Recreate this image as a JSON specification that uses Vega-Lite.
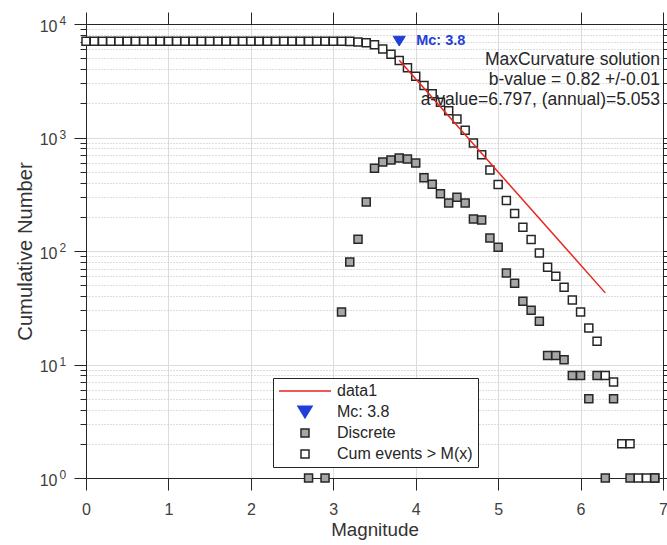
{
  "$schema": "https://vega.github.io/schema/vega-lite/v6.json",
  "width": 577,
  "height": 454,
  "autosize": "none",
  "padding": {"left": 86, "top": 24, "right": 4, "bottom": 67},
  "background": "white",
  "config": {
    "font": "Liberation Sans",
    "view": {"stroke": "#262626", "strokeWidth": 1},
    "axis": {
      "labelFont": "Liberation Sans",
      "titleFont": "Liberation Sans",
      "labelColor": "#404040",
      "titleColor": "#333333",
      "tickColor": "#262626",
      "domainColor": "#262626",
      "titleFontWeight": "normal",
      "titleFontSize": 18.8,
      "labelFontSize": 16,
      "labelFlush": false,
      "labelOverlap": false,
      "gridColor": "#dcdcdc"
    },
    "legend": {
      "orient": "none",
      "legendX": 187,
      "legendY": 354,
      "symbolSize": 2704,
      "clipHeight": 16,
      "rowPadding": 5,
      "labelOffset": 5,
      "padding": 5,
      "strokeColor": "#262626",
      "fillColor": "white",
      "labelFont": "Liberation Sans",
      "labelFontSize": 16,
      "labelColor": "#262626",
      "symbolStrokeWidth": 1.5,
      "labelLimit": 300
    }
  },
  "datasets": {
    "cum": [
      {"M": 0.0, "N": 7060, "series": "Cum events > M(x)"},
      {"M": 0.1, "N": 7060, "series": "Cum events > M(x)"},
      {"M": 0.2, "N": 7060, "series": "Cum events > M(x)"},
      {"M": 0.3, "N": 7060, "series": "Cum events > M(x)"},
      {"M": 0.4, "N": 7060, "series": "Cum events > M(x)"},
      {"M": 0.5, "N": 7060, "series": "Cum events > M(x)"},
      {"M": 0.6, "N": 7060, "series": "Cum events > M(x)"},
      {"M": 0.7, "N": 7060, "series": "Cum events > M(x)"},
      {"M": 0.8, "N": 7060, "series": "Cum events > M(x)"},
      {"M": 0.9, "N": 7060, "series": "Cum events > M(x)"},
      {"M": 1.0, "N": 7060, "series": "Cum events > M(x)"},
      {"M": 1.1, "N": 7060, "series": "Cum events > M(x)"},
      {"M": 1.2, "N": 7060, "series": "Cum events > M(x)"},
      {"M": 1.3, "N": 7060, "series": "Cum events > M(x)"},
      {"M": 1.4, "N": 7060, "series": "Cum events > M(x)"},
      {"M": 1.5, "N": 7060, "series": "Cum events > M(x)"},
      {"M": 1.6, "N": 7060, "series": "Cum events > M(x)"},
      {"M": 1.7, "N": 7060, "series": "Cum events > M(x)"},
      {"M": 1.8, "N": 7060, "series": "Cum events > M(x)"},
      {"M": 1.9, "N": 7060, "series": "Cum events > M(x)"},
      {"M": 2.0, "N": 7060, "series": "Cum events > M(x)"},
      {"M": 2.1, "N": 7060, "series": "Cum events > M(x)"},
      {"M": 2.2, "N": 7060, "series": "Cum events > M(x)"},
      {"M": 2.3, "N": 7060, "series": "Cum events > M(x)"},
      {"M": 2.4, "N": 7060, "series": "Cum events > M(x)"},
      {"M": 2.5, "N": 7060, "series": "Cum events > M(x)"},
      {"M": 2.6, "N": 7060, "series": "Cum events > M(x)"},
      {"M": 2.7, "N": 7060, "series": "Cum events > M(x)"},
      {"M": 2.8, "N": 7059, "series": "Cum events > M(x)"},
      {"M": 2.9, "N": 7059, "series": "Cum events > M(x)"},
      {"M": 3.0, "N": 7058, "series": "Cum events > M(x)"},
      {"M": 3.1, "N": 7058, "series": "Cum events > M(x)"},
      {"M": 3.2, "N": 7029, "series": "Cum events > M(x)"},
      {"M": 3.3, "N": 6949, "series": "Cum events > M(x)"},
      {"M": 3.4, "N": 6822, "series": "Cum events > M(x)"},
      {"M": 3.5, "N": 6552, "series": "Cum events > M(x)"},
      {"M": 3.6, "N": 6017, "series": "Cum events > M(x)"},
      {"M": 3.7, "N": 5409, "series": "Cum events > M(x)"},
      {"M": 3.8, "N": 4775, "series": "Cum events > M(x)"},
      {"M": 3.9, "N": 4115, "series": "Cum events > M(x)"},
      {"M": 4.0, "N": 3468, "series": "Cum events > M(x)"},
      {"M": 4.1, "N": 2872, "series": "Cum events > M(x)"},
      {"M": 4.2, "N": 2429, "series": "Cum events > M(x)"},
      {"M": 4.3, "N": 2042, "series": "Cum events > M(x)"},
      {"M": 4.4, "N": 1722, "series": "Cum events > M(x)"},
      {"M": 4.5, "N": 1457, "series": "Cum events > M(x)"},
      {"M": 4.6, "N": 1160, "series": "Cum events > M(x)"},
      {"M": 4.7, "N": 895, "series": "Cum events > M(x)"},
      {"M": 4.8, "N": 704, "series": "Cum events > M(x)"},
      {"M": 4.9, "N": 516, "series": "Cum events > M(x)"},
      {"M": 5.0, "N": 386, "series": "Cum events > M(x)"},
      {"M": 5.1, "N": 278, "series": "Cum events > M(x)"},
      {"M": 5.2, "N": 214, "series": "Cum events > M(x)"},
      {"M": 5.3, "N": 162, "series": "Cum events > M(x)"},
      {"M": 5.4, "N": 126, "series": "Cum events > M(x)"},
      {"M": 5.5, "N": 96, "series": "Cum events > M(x)"},
      {"M": 5.6, "N": 72, "series": "Cum events > M(x)"},
      {"M": 5.7, "N": 60, "series": "Cum events > M(x)"},
      {"M": 5.8, "N": 48, "series": "Cum events > M(x)"},
      {"M": 5.9, "N": 37, "series": "Cum events > M(x)"},
      {"M": 6.0, "N": 29, "series": "Cum events > M(x)"},
      {"M": 6.1, "N": 21, "series": "Cum events > M(x)"},
      {"M": 6.2, "N": 16, "series": "Cum events > M(x)"},
      {"M": 6.3, "N": 8, "series": "Cum events > M(x)"},
      {"M": 6.4, "N": 7, "series": "Cum events > M(x)"},
      {"M": 6.5, "N": 2, "series": "Cum events > M(x)"},
      {"M": 6.6, "N": 2, "series": "Cum events > M(x)"},
      {"M": 6.7, "N": 1, "series": "Cum events > M(x)"},
      {"M": 6.8, "N": 1, "series": "Cum events > M(x)"},
      {"M": 6.9, "N": 1, "series": "Cum events > M(x)"}
    ],
    "disc": [
      {"M": 2.7, "N": 1, "series": "Discrete"},
      {"M": 2.9, "N": 1, "series": "Discrete"},
      {"M": 3.1, "N": 29, "series": "Discrete"},
      {"M": 3.2, "N": 80, "series": "Discrete"},
      {"M": 3.3, "N": 127, "series": "Discrete"},
      {"M": 3.4, "N": 270, "series": "Discrete"},
      {"M": 3.5, "N": 535, "series": "Discrete"},
      {"M": 3.6, "N": 608, "series": "Discrete"},
      {"M": 3.7, "N": 634, "series": "Discrete"},
      {"M": 3.8, "N": 660, "series": "Discrete"},
      {"M": 3.9, "N": 647, "series": "Discrete"},
      {"M": 4.0, "N": 596, "series": "Discrete"},
      {"M": 4.1, "N": 443, "series": "Discrete"},
      {"M": 4.2, "N": 387, "series": "Discrete"},
      {"M": 4.3, "N": 320, "series": "Discrete"},
      {"M": 4.4, "N": 265, "series": "Discrete"},
      {"M": 4.5, "N": 297, "series": "Discrete"},
      {"M": 4.6, "N": 265, "series": "Discrete"},
      {"M": 4.7, "N": 191, "series": "Discrete"},
      {"M": 4.8, "N": 188, "series": "Discrete"},
      {"M": 4.9, "N": 130, "series": "Discrete"},
      {"M": 5.0, "N": 108, "series": "Discrete"},
      {"M": 5.1, "N": 64, "series": "Discrete"},
      {"M": 5.2, "N": 52, "series": "Discrete"},
      {"M": 5.3, "N": 36, "series": "Discrete"},
      {"M": 5.4, "N": 30, "series": "Discrete"},
      {"M": 5.5, "N": 24, "series": "Discrete"},
      {"M": 5.6, "N": 12, "series": "Discrete"},
      {"M": 5.7, "N": 12, "series": "Discrete"},
      {"M": 5.8, "N": 11, "series": "Discrete"},
      {"M": 5.9, "N": 8, "series": "Discrete"},
      {"M": 6.0, "N": 8, "series": "Discrete"},
      {"M": 6.1, "N": 5, "series": "Discrete"},
      {"M": 6.2, "N": 8, "series": "Discrete"},
      {"M": 6.3, "N": 1, "series": "Discrete"},
      {"M": 6.4, "N": 5, "series": "Discrete"},
      {"M": 6.6, "N": 1, "series": "Discrete"},
      {"M": 6.9, "N": 1, "series": "Discrete"}
    ],
    "fit": [
      {"M": 3.8, "N": 4797.5, "series": "data1"},
      {"M": 6.3, "N": 42.76, "series": "data1"}
    ],
    "mc": [
      {"M": 3.8, "N": 7060, "series": "Mc: 3.8", "label": "Mc: 3.8"}
    ],
    "notes": [
      {"M": 7, "N": 4351, "label": "MaxCurvature solution"},
      {"M": 7, "N": 2901, "label": "b-value = 0.82 +/-0.01"},
      {"M": 7, "N": 1933, "label": "a-value=6.797, (annual)=5.053"}
    ]
  },
  "resolve": {"axis": {"x": "independent", "y": "independent"}},
  "layer": [
    {
      "data": {"name": "cum"},
      "mark": {"type": "point", "size": 2704, "strokeWidth": 1.5, "opacity": 1, "fillOpacity": 1},
      "encoding": {
        "x": {"field": "M", "type": "quantitative",
          "scale": {"domain": [0, 7], "nice": false, "zero": false},
          "axis": {"orient": "bottom", "values": [0, 1, 2, 3, 4, 5, 6, 7], "tickSize": 12, "labelPadding": 19, "labelBaseline": "middle", "grid": true, "title": "Magnitude", "titleX": 288.5, "titleY": 57, "titleAlign": "center", "titleBaseline": "alphabetic"}},
        "y": {"field": "N", "type": "quantitative",
          "scale": {"type": "log", "domain": [1, 10000], "nice": false},
          "axis": {"orient": "left", "values": [1, 10, 100, 1000, 10000], "tickSize": 12, "labelExpr": "'10'", "labelAlign": "right", "labelBaseline": "middle", "labelPadding": 17, "labelOffset": 2, "grid": true, "title": "Cumulative Number", "titleFontSize": 20.2, "titleX": -54.5, "titleY": 227, "titleAngle": 270, "titleAlign": "center", "titleBaseline": "alphabetic"}},
        "fill": {"field": "series", "type": "nominal", "legend": {"title": null},
          "scale": {"domain": ["data1", "Mc: 3.8", "Discrete", "Cum events > M(x)"], "range": ["rgba(0,0,0,0)", "#1f3fd8", "#a6a6a6", "#ffffff"]}},
        "stroke": {"field": "series", "type": "nominal", "legend": {"title": null},
          "scale": {"domain": ["data1", "Mc: 3.8", "Discrete", "Cum events > M(x)"], "range": ["#e8251f", "#1f3fd8", "#262626", "#262626"]}},
        "shape": {"field": "series", "type": "nominal", "legend": {"title": null},
          "scale": {"domain": ["data1", "Mc: 3.8", "Discrete", "Cum events > M(x)"], "range": ["M-1,0H1", "M-0.27,-0.22L0.27,-0.22L0,0.22Z", "M-0.154,-0.154H0.154V0.154H-0.154Z", "M-0.154,-0.154H0.154V0.154H-0.154Z"]}}
      }
    },
    {
      "data": {"name": "disc"},
      "mark": {"type": "point", "size": 2704, "strokeWidth": 1.5, "opacity": 1, "fillOpacity": 1},
      "encoding": {
        "x": {"field": "M", "type": "quantitative",
          "scale": {"domain": [0, 7], "nice": false, "zero": false},
          "axis": {"orient": "top", "values": [0, 1, 2, 3, 4, 5, 6, 7], "tickSize": 12, "labels": false, "grid": false, "title": null}},
        "y": {"field": "N", "type": "quantitative",
          "scale": {"type": "log", "domain": [1, 10000], "nice": false},
          "axis": {"orient": "left", "values": [2, 3, 4, 5, 6, 7, 8, 9, 20, 30, 40, 50, 60, 70, 80, 90, 200, 300, 400, 500, 600, 700, 800, 900, 2000, 3000, 4000, 5000, 6000, 7000, 8000, 9000], "tickSize": 6, "labels": false, "domain": false, "grid": true, "gridDash": [1, 2], "gridColor": "#bdbdbd", "title": null}},
        "fill": {"field": "series", "type": "nominal", "legend": {"title": null},
          "scale": {"domain": ["data1", "Mc: 3.8", "Discrete", "Cum events > M(x)"], "range": ["rgba(0,0,0,0)", "#1f3fd8", "#a6a6a6", "#ffffff"]}},
        "stroke": {"field": "series", "type": "nominal", "legend": {"title": null},
          "scale": {"domain": ["data1", "Mc: 3.8", "Discrete", "Cum events > M(x)"], "range": ["#e8251f", "#1f3fd8", "#262626", "#262626"]}},
        "shape": {"field": "series", "type": "nominal", "legend": {"title": null},
          "scale": {"domain": ["data1", "Mc: 3.8", "Discrete", "Cum events > M(x)"], "range": ["M-1,0H1", "M-0.27,-0.22L0.27,-0.22L0,0.22Z", "M-0.154,-0.154H0.154V0.154H-0.154Z", "M-0.154,-0.154H0.154V0.154H-0.154Z"]}}
      }
    },
    {
      "data": {"name": "fit"},
      "mark": {"type": "line", "strokeWidth": 1.5},
      "encoding": {
        "x": {"field": "M", "type": "quantitative",
          "scale": {"domain": [0, 7], "nice": false, "zero": false}, "axis": null},
        "y": {"field": "N", "type": "quantitative",
          "scale": {"type": "log", "domain": [1, 10000], "nice": false},
          "axis": {"orient": "right", "values": [1, 10, 100, 1000, 10000], "tickSize": 12, "labels": false, "grid": false, "title": null}},
        "stroke": {"field": "series", "type": "nominal", "legend": {"title": null},
          "scale": {"domain": ["data1", "Mc: 3.8", "Discrete", "Cum events > M(x)"], "range": ["#e8251f", "#1f3fd8", "#262626", "#262626"]}}
      }
    },
    {
      "data": {"name": "mc"},
      "mark": {"type": "point", "size": 1975, "strokeWidth": 1, "opacity": 1, "fillOpacity": 1},
      "encoding": {
        "x": {"field": "M", "type": "quantitative",
          "scale": {"domain": [0, 7], "nice": false, "zero": false}, "axis": null},
        "y": {"field": "N", "type": "quantitative",
          "scale": {"type": "log", "domain": [1, 10000], "nice": false},
          "axis": {"orient": "right", "values": [2, 3, 4, 5, 6, 7, 8, 9, 20, 30, 40, 50, 60, 70, 80, 90, 200, 300, 400, 500, 600, 700, 800, 900, 2000, 3000, 4000, 5000, 6000, 7000, 8000, 9000], "tickSize": 6, "labels": false, "domain": false, "grid": false, "title": null}},
        "fill": {"field": "series", "type": "nominal", "legend": {"title": null},
          "scale": {"domain": ["data1", "Mc: 3.8", "Discrete", "Cum events > M(x)"], "range": ["rgba(0,0,0,0)", "#1f3fd8", "#a6a6a6", "#ffffff"]}},
        "stroke": {"field": "series", "type": "nominal", "legend": {"title": null},
          "scale": {"domain": ["data1", "Mc: 3.8", "Discrete", "Cum events > M(x)"], "range": ["#e8251f", "#1f3fd8", "#262626", "#262626"]}},
        "shape": {"field": "series", "type": "nominal", "legend": {"title": null},
          "scale": {"domain": ["data1", "Mc: 3.8", "Discrete", "Cum events > M(x)"], "range": ["M-1,0H1", "M-0.27,-0.22L0.27,-0.22L0,0.22Z", "M-0.154,-0.154H0.154V0.154H-0.154Z", "M-0.154,-0.154H0.154V0.154H-0.154Z"]}}
      }
    },
    {
      "data": {"name": "mc"},
      "mark": {"type": "text", "align": "left", "baseline": "middle", "dx": 17, "fontSize": 14.5, "fontWeight": "bold", "font": "Liberation Sans", "color": "#1f3fd8"},
      "encoding": {
        "x": {"field": "M", "type": "quantitative",
          "scale": {"domain": [0, 7], "nice": false, "zero": false}, "axis": null},
        "y": {"field": "N", "type": "quantitative",
          "scale": {"type": "log", "domain": [1, 10000], "nice": false},
          "axis": {"orient": "left", "values": [1, 10, 100, 1000, 10000], "tickSize": 12, "tickColor": "transparent", "domain": false, "grid": false, "labelExpr": "'' + round(log(datum.value) / LN10)", "labelFontSize": 12, "labelAlign": "left", "labelBaseline": "middle", "labelPadding": 15, "labelOffset": -3.5, "title": null}},
        "text": {"field": "label"}
      }
    },
    {
      "data": {"name": "notes"},
      "mark": {"type": "text", "align": "right", "baseline": "alphabetic", "dx": -3, "fontSize": 17.5, "font": "Liberation Sans", "color": "#262626"},
      "encoding": {
        "x": {"field": "M", "type": "quantitative",
          "scale": {"domain": [0, 7], "nice": false, "zero": false}, "axis": null},
        "y": {"field": "N", "type": "quantitative",
          "scale": {"type": "log", "domain": [1, 10000], "nice": false}, "axis": null},
        "text": {"field": "label"}
      }
    }
  ]
}
